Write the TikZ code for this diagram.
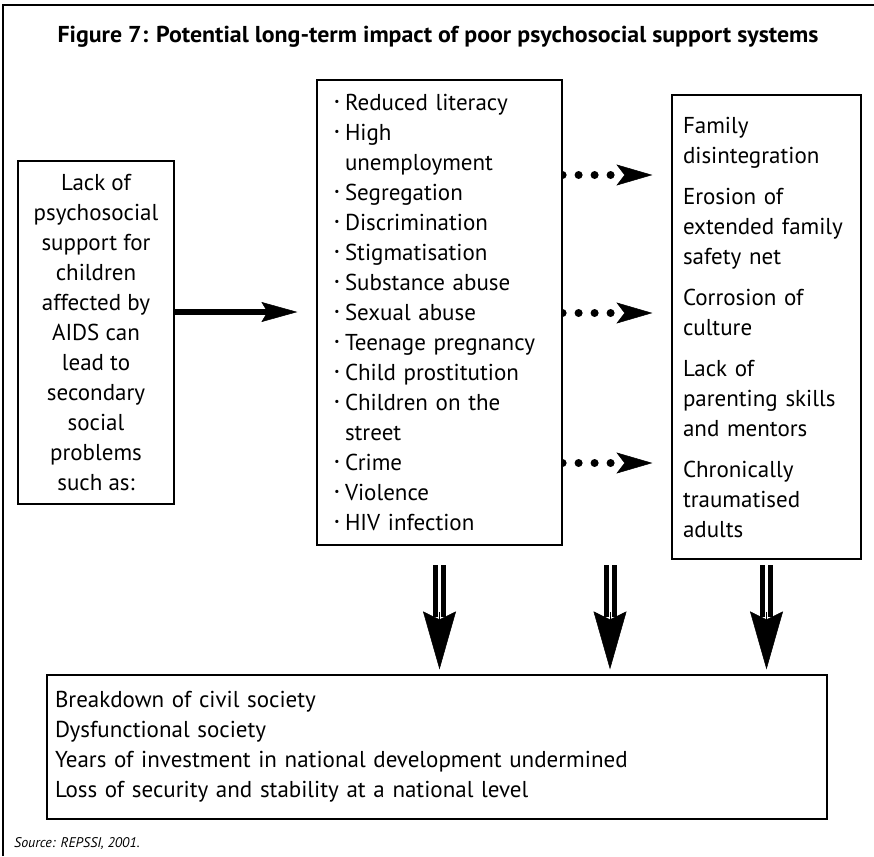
\documentclass[tikz,border=0pt]{standalone}
\usepackage{fontspec}
\setmainfont{PT Sans}
\usetikzlibrary{arrows.meta,backgrounds}
\newcommand\mybul{\makebox[16pt][c]{\raisebox{.22em}{\scalebox{.5}{\textbullet}}}}
\newcommand\mycont{\hspace*{16pt}}
\begin{document}
\begin{tikzpicture}[x=1pt,y=-1pt,
  box/.style={draw=black,line width=1.2pt,fill=white,inner ysep=0pt,font=\fontsize{23}{30}\selectfont},
  bigarrow/.style={line width=6pt,-{Stealth[length=36pt,width=20pt,inset=6pt,line width=0.5pt]}},
  dotarrow/.style={line width=8pt,line cap=round,dash pattern=on 0pt off 16pt,-{Stealth[length=36pt,width=21pt,inset=8pt,line width=0.5pt]}},
  dshaft/.style={double,double distance=3pt,line width=5pt},
  dhead/.style={line width=0.5pt,-{Stealth[length=58pt,width=33pt,inset=8pt]}},
  frame/.style={line width=2pt}]
\useasboundingbox (0,0) rectangle (874,856);
\draw[frame] (3,856) -- (3,5) -- (874,5);

\node[anchor=base,font=\bfseries\fontsize{23}{28}\selectfont,inner sep=0pt] (title) at (438,43)
  {\resizebox{761pt}{\height}{Figure 7: Potential long-term impact of poor psychosocial support systems}};

\node[box,minimum width=156pt,minimum height=343pt,inner xsep=0pt,align=center] (lack) at (96,332.5)
  {Lack of\\psychosocial\\support for\\children\\affected by\\AIDS can\\lead to\\secondary\\social\\problems\\such as:};

\node[box,minimum width=245pt,minimum height=465pt,inner xsep=12pt,text width=221pt,align=left] (mid) at (439.5,312.5)
  {\mybul Reduced literacy\\
   \mybul High\\
   \mycont unemployment\\
   \mybul Segregation\\
   \mybul Discrimination\\
   \mybul Stigmatisation\\
   \mybul Substance abuse\\
   \mybul Sexual abuse\\
   \mybul Teenage pregnancy\\
   \mybul Child prostitution\\
   \mybul Children on the\\
   \mycont street\\
   \mybul Crime\\
   \mybul Violence\\
   \mybul HIV infection};

\node[box,minimum width=189pt,minimum height=464pt,inner xsep=11pt,text width=167pt,align=left] (res) at (766.5,327)
  {Family\\disintegration\\[11pt]
   Erosion of\\extended family\\safety net\\[11pt]
   Corrosion of\\culture\\[11pt]
   Lack of\\parenting skills\\and mentors\\[11pt]
   Chronically\\traumatised\\adults};

\node[box,minimum width=780pt,minimum height=144pt,inner xsep=8pt,text width=764pt,align=left] (soc) at (437,747)
  {Breakdown of civil society\\
   Dysfunctional society\\
   Years of investment in national development undermined\\
   Loss of security and stability at a national level};

\node[anchor=base west,font=\itshape\fontsize{14}{16}\selectfont,inner sep=0pt] (src) at (14,847) {Source: REPSSI, 2001.};

\begin{scope}[on background layer]
  \draw[dotarrow,shorten >=19pt] (mid.east |- 0,175) -- (res.west |- 0,175);
  \draw[dotarrow,shorten >=19pt] (mid.east |- 0,313) -- (res.west |- 0,313);
  \draw[dotarrow,shorten >=19pt] (mid.east |- 0,463) -- (res.west |- 0,463);
\end{scope}

\draw[bigarrow,shorten >=19pt] (lack.east |- 0,312) -- (mid.west |- 0,312);

\coordinate (s1) at (mid.south |- 0,565);
\coordinate (s2) at (610,565);
\coordinate (s3) at (res.south |- 0,565);
\foreach \s in {s1,s2,s3}{
  \draw[dshaft] (\s) -- ++(0,52);
  \path (\s) ++(0,47) coordinate (h-\s);
  \draw[dhead,shorten >=5pt] (h-\s) -- (soc.north -| \s);
}
\end{tikzpicture}
\end{document}
